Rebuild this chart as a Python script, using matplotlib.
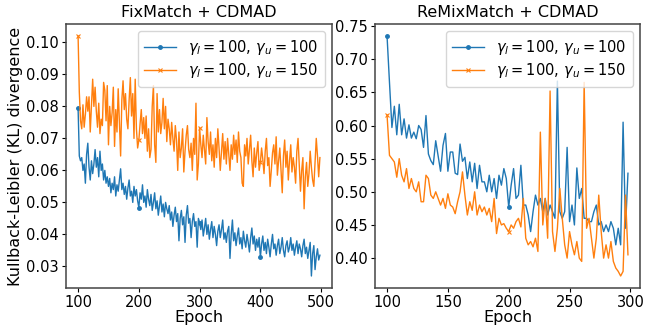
import numpy as np
import matplotlib
matplotlib.use("Agg")
import matplotlib.pyplot as plt

# ---------------- data ----------------
epochs_fix = np.arange(100, 500, 2)
epochs_remix = np.arange(100, 300, 2)

fix_u100 = np.array([
    79.4, 64.5, 63, 64, 60, 62, 56, 65, 68.5, 61, 57, 63, 59, 62, 66.5, 61, 64, 58, 66, 60, 62, 57, 60, 56, 58,
    55, 57.5, 53, 56, 54, 58, 52, 55.5, 53.5, 57, 60.5, 54, 56, 52.5, 55, 51, 54.5, 57, 52, 53.5, 50, 55, 52, 54, 50.5,
    48.4, 53, 51, 55.5, 50, 52, 48.5, 54, 51, 49, 52.5, 47.5, 50, 53, 48, 50.5, 46, 49, 52, 47, 49.5, 45.5, 50, 48, 46.5,
    49, 44.5, 47, 42.5, 46, 48.5, 44, 46.5, 38, 45, 47.5, 43, 45.5, 37.5, 46, 49, 43.5, 45, 39, 44, 46.5, 42.5, 44, 36, 45,
    43.7, 41.5, 44.5, 39.5, 42, 45, 40, 43, 38.5, 41.5, 44, 39, 42.5, 40, 36.5, 41, 43, 39, 41.5, 44.5, 38.5, 40.5, 37.5, 41, 42.5,
    32.5, 40, 44.5, 38, 40.5, 36.5, 39.5, 42, 37, 39, 35.5, 41, 38, 36, 40, 37.5, 34.5, 39, 42, 37, 39.5, 35, 38.5, 36, 39,
    32.8, 37, 39.5, 35, 37.5, 34, 38.5, 36, 33, 37, 40, 35.5, 37, 33.5, 36.5, 38.5, 34, 36, 39, 35, 33, 36.5, 38, 34.5, 36,
    39, 35, 37, 33.5, 36, 38, 34, 37, 35.5, 33, 36.5, 38.5, 34, 36, 32.5, 35, 37.5, 27, 34, 36.5, 29, 33, 35.5, 32, 33.5,
]) / 1000.0

fix_u150 = np.array([
    102, 84.5, 75.5, 73, 80.5, 73.5, 77.5, 83, 78.5, 83, 72, 80, 88.5, 80, 86, 78.5, 73.5, 81, 71.5, 76, 74, 87.5, 85, 75.5, 86.5,
    68, 80, 74, 78, 86, 67.5, 79, 72, 85.5, 74.5, 64.5, 82, 88, 79, 84, 76, 73, 82, 89, 77, 84, 70, 88.5, 73, 67,
    69.4, 74.5, 79, 71.5, 76.5, 70, 77, 66, 73, 64, 66.5, 80, 86.5, 68, 62.5, 84, 72, 79, 71.5, 75, 82.5, 73, 80, 69, 76,
    73, 68, 75, 70, 66, 74, 69.5, 60, 72, 64, 67, 73, 59.5, 66, 71, 74, 66.5, 64, 68.5, 60, 70, 65, 81, 57, 62,
    73.4, 68, 64, 71, 66.5, 62, 76.5, 69, 65, 72, 63, 68, 61, 70, 64, 73, 67, 60, 66, 71.5, 63.5, 69, 62, 70, 65,
    60, 68, 63.5, 71, 65, 69.5, 62.5, 72, 66, 64, 56, 55, 68, 64.5, 70, 62, 66.5, 71, 63, 58, 67, 61, 65.5, 69, 60,
    62.5, 67, 63.5, 59, 66, 70, 61.5, 64, 55, 60, 65.5, 68, 62, 70.5, 58.5, 63, 67, 60, 53, 64.5, 69.5, 61, 66, 57, 63,
    68, 59.5, 64, 61, 56, 66, 70, 62, 53.5, 60, 64, 48, 58, 62.5, 55, 59, 66, 61, 57, 55, 62.5, 70, 64.5, 58, 64,
]) / 1000.0

remix_u100 = np.array([
    .735, .665, .597, .629, .586, .632, .586, .610, .581, .601, .581, .590, .580, .600, .594, .567, .615, .557, .547, .541,
    .577, .554, .531, .570, .588, .531, .560, .560, .528, .526, .572, .546, .552, .520, .545, .515, .543, .505, .540, .515,
    .515, .500, .525, .500, .520, .490, .525, .510, .535, .520, .477, .510, .535, .490, .495, .540, .480, .480, .465, .440,
    .470, .495, .480, .490, .470, .490, .465, .480, .470, .460, .667, .470, .460, .470, .567, .455, .480, .450, .536, .490,
    .505, .460, .460, .455, .455, .470, .480, .450, .455, .440, .450, .440, .455, .445, .420, .445, .420, .605, .445, .528,
])

remix_u150 = np.array([
    .616, .555, .550, .545, .522, .550, .525, .515, .535, .505, .520, .505, .500, .515, .485, .485, .525, .520, .495, .490,
    .500, .490, .480, .490, .475, .497, .480, .477, .467, .485, .500, .530, .495, .465, .485, .472, .500, .465, .480, .470,
    .477, .465, .475, .455, .490, .437, .460, .450, .452, .445, .440, .450, .445, .455, .460, .447, .490, .430, .420, .425,
    .417, .430, .410, .590, .450, .490, .430, .652, .440, .410, .445, .505, .460, .420, .400, .440, .420, .405, .425, .400,
    .395, .665, .445, .460, .430, .400, .430, .495, .440, .400, .420, .400, .425, .395, .385, .380, .373, .380, .495, .405,
])

label_a = r'$\gamma_l=100,\, \gamma_u=100$'
label_b = r'$\gamma_l=100,\, \gamma_u=150$'
titles = ['FixMatch + CDMAD', 'ReMixMatch + CDMAD']

# ---------------- figure ----------------
W, H = 664, 331
fig = plt.figure(figsize=(W / 100, H / 100), dpi=100)
ax1 = fig.add_axes([66 / W, 1 - 288 / H, 266 / W, 264 / H])
ax2 = fig.add_axes([375 / W, 1 - 288 / H, 265 / W, 264 / H])

blue = '#1f77b4'
orange = '#ff7f0e'

panels = [
    (ax1, epochs_fix, fix_u100, fix_u150, 50),
    (ax2, epochs_remix, remix_u100, remix_u150, 50),
]
for ax, ep, a, b, me in panels:
    ax.plot(ep, a, color=blue, lw=1.0, marker='.', ms=5, markevery=me, label=label_a)
    ax.plot(ep, b, color=orange, lw=1.0, marker='x', ms=3, mew=0.8, markevery=me, label=label_b)
    ax.set_xlabel('Epoch', fontsize=11.5, labelpad=0)
    ax.tick_params(labelsize=10.5, length=3, width=0.8, pad=2)
    for s in ax.spines.values():
        s.set_color('#444444')
        s.set_linewidth(1.1)
    ax.legend(loc='upper right', fontsize=10.5, handlelength=2.2, borderpad=0.45,
              labelspacing=0.3, handletextpad=0.8)

ax1.set_title(titles[0], fontsize=11.5, pad=5)
ax2.set_title(titles[1], fontsize=11.5, pad=5)
ax1.set_ylabel('Kullback-Leibler (KL) divergence', fontsize=11.5, labelpad=2)

ax1.set_xticks([100, 200, 300, 400, 500])
ax1.set_yticks([0.03, 0.04, 0.05, 0.06, 0.07, 0.08, 0.09, 0.10])
ax1.set_yticklabels(['0.03', '0.04', '0.05', '0.06', '0.07', '0.08', '0.09', '0.10'])
ax2.set_xticks([100, 150, 200, 250, 300])
ax2.set_yticks([0.40, 0.45, 0.50, 0.55, 0.60, 0.65, 0.70, 0.75])
ax2.set_yticklabels(['0.40', '0.45', '0.50', '0.55', '0.60', '0.65', '0.70', '0.75'])

fig.savefig('out.png', dpi=100)
